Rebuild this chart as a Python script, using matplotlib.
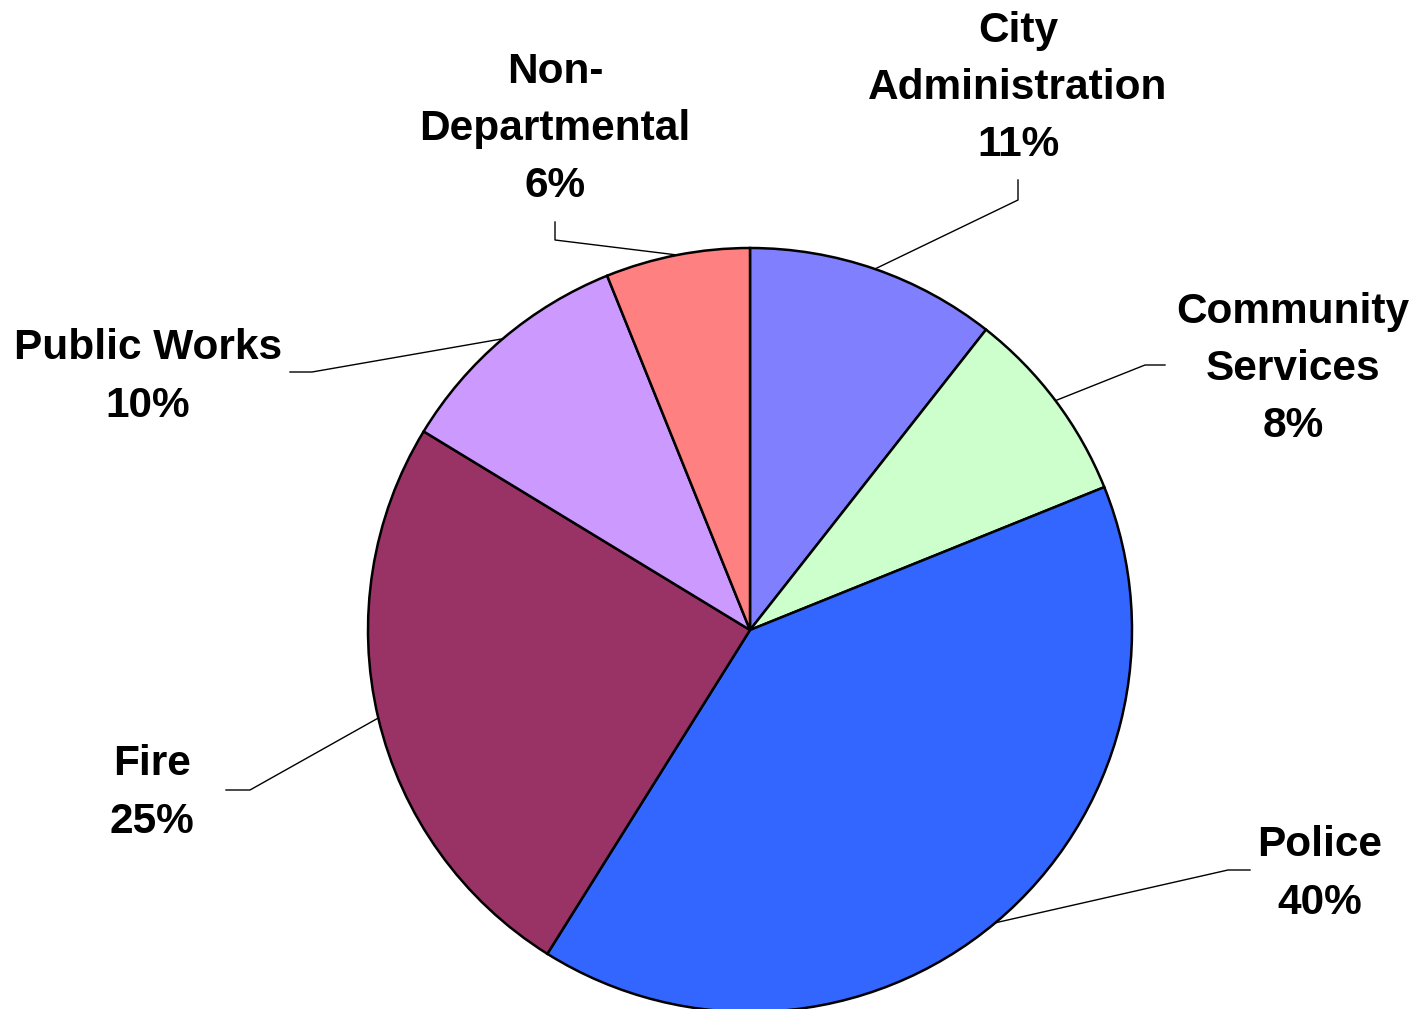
import numpy as np
import matplotlib.pyplot as plt

labels = ["City\nAdministration", "Community\nServices", "Police", "Fire",
          "Public Works", "Non-\nDepartmental"]
shares = [10.6, 8.3, 40.0, 24.8, 10.2, 6.1]
colors = ["#8080FF", "#CCFFCC", "#3366FF", "#993366", "#CC99FF", "#FF8080"]

# label layout in image pixels (y down): text centre, elbow start, elbow end
text_pos = [(1018, 88), (1293, 369), (1320, 874), (152, 793), (148, 377), (555, 129)]
elbow = [((1018, 180), (1018, 200)), ((1165, 365), (1145, 365)),
         ((1250, 870), (1228, 870)), ((226, 790), (250, 790)),
         ((290, 372), (312, 372)), ((555, 222), (555, 240))]

W, H = 1416, 1009
fig = plt.figure(figsize=(W / 100, H / 100), dpi=100)
ax = fig.add_axes([0, 0, 1, 1])

cx, cy, r = 750, H - 630, 382
wedges, _ = ax.pie(shares, colors=colors, startangle=90, counterclock=False,
                   center=(cx, cy), radius=r, frame=True,
                   wedgeprops=dict(edgecolor="black", linewidth=1.8))
ax.set_xlim(0, W)
ax.set_ylim(0, H)
ax.set_aspect("equal")
ax.axis("off")

total = sum(shares)
for w, lab, v, tp, (e1, e2) in zip(wedges, labels, shares, text_pos, elbow):
    ang = np.deg2rad((w.theta1 + w.theta2) / 2)
    px, py = cx + r * np.cos(ang), cy + r * np.sin(ang)
    ax.plot([e1[0], e2[0], px], [H - e1[1], H - e2[1], py], color="black", lw=1)
    ax.text(tp[0], H - tp[1], "%s\n%.0f%%" % (lab, v / total * 100),
            ha="center", va="center", fontsize=30.5, fontweight="bold",
            family="Liberation Sans", linespacing=1.55)

fig.savefig("out.png", dpi=100)
